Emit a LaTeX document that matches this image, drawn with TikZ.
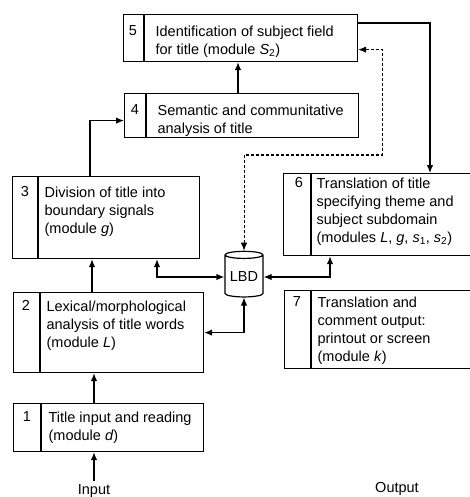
\documentclass[tikz,border=0pt]{standalone}
\usepackage{fontspec}
\setmainfont{Liberation Sans}
\usetikzlibrary{positioning,arrows.meta,shapes.geometric}

\tikzset{
  box/.style={draw, inner sep=0, anchor=north west},
  num/.style={anchor=north, inner sep=0},
  txt/.style={anchor=north west, inner sep=0, align=left},
  link/.style={->},
  dlink/.style={<->, dash pattern=on 3pt off 2pt, line width=1pt}
}

\begin{document}
\begin{tikzpicture}[x=1pt,y=-1pt,line width=1.2pt,>={Latex[length=8pt,width=6.5pt]},
  font=\fontsize{14.5}{18}\selectfont]
\useasboundingbox (0,0) rectangle (470,497);

% module boxes
\node[box, minimum width=190, minimum height=48] (b1) at (13,403) {};
\node[box, minimum width=190, minimum height=80] (b2) at (13,292) {};
\node[box, minimum width=187, minimum height=82] (b3) at (12,176) {};
\node[box, minimum width=234, minimum height=44] (b4) at (124,93) {};
\node[box, minimum width=234, minimum height=47] (b5) at (123,14) {};
\node[box, minimum width=190, minimum height=82] (b6) at (283,173) {};
\node[box, minimum width=190, minimum height=78] (b7) at (284,290) {};

% number columns
\draw ([xshift=28pt]b1.north west) -- ([xshift=28pt]b1.south west);
\draw ([xshift=27pt]b2.north west) -- ([xshift=27pt]b2.south west);
\draw ([xshift=26pt]b3.north west) -- ([xshift=26pt]b3.south west);
\draw ([xshift=22pt]b4.north west) -- ([xshift=22pt]b4.south west);
\draw ([xshift=21pt]b5.north west) -- ([xshift=21pt]b5.south west);
\draw ([xshift=28pt]b6.north west) -- ([xshift=28pt]b6.south west);
\draw ([xshift=27pt]b7.north west) -- ([xshift=27pt]b7.south west);

\node[num] (n1) at (27,411) {1};
\node[num] (n2) at (26,300) {2};
\node[num] (n3) at (25,186) {3};
\node[num] (n4) at (135,104) {4};
\node[num] (n5) at (133,25) {5};
\node[num] (n6) at (299,177) {6};
\node[num] (n7) at (297,296) {7};

\node[txt] (t1) at (48,411) {Title input and reading\\(module \textit{d})};
\node[txt] (t2) at (46,300) {Lexical/morphological\\analysis of title words\\(module \textit{L})};
\node[txt] (t3) at (44,186) {Division of title into\\boundary signals\\(module \textit{g})};
\node[txt] (t4) at (157,104) {Semantic and communitative\\analysis of title};
\node[txt] (t5) at (155,25) {Identification of subject field\\for title (module \textit{S}\textsubscript{2})};
\node[txt] (t6) at (316,177) {Translation of title\\specifying theme and\\subject subdomain\\(modules \textit{L}, \textit{g}, \textit{s}\textsubscript{1}, \textit{s}\textsubscript{2})};
\node[txt] (t7) at (317,296) {Translation and\\comment output:\\printout or screen\\(module \textit{k})};

% data base
\node[cylinder, draw, shape border rotate=90, aspect=0.22, minimum width=38, inner xsep=2, inner ysep=13] (lbd) at (244,277) {LBD};

\node (in) at (94,491) {Input};
\node (out) at (397,489) {Output};

% helper columns
\coordinate (c12) at (94,0);
\coordinate (c23) at (92,0);
\coordinate (c34) at (90,0);
\coordinate (c45) at (238,0);
\coordinate (c56) at (430,0);
\coordinate (c3l) at (157,0);
\coordinate (c6l) at (330,0);
\coordinate (cd) at (382,155);

\draw[link] (in) -- (b1.south -| in);
\draw[link] (b1.north -| c12) -- (b2.south -| c12);
\draw[link] (b2.north -| c23) -- (b3.south -| c23);
\draw[link] (b3.north -| c34) |- ([yshift=-5pt]b4.west);
\draw[link] (b4.north -| c45) -- (b5.south -| c45);
\draw[link] ([yshift=-9pt]b5.north east) -| (b6.north -| c56);

\draw[<->] (b3.south -| c3l) |- (lbd.west);
\draw[<->] (lbd.east) -| (b6.south -| c6l);
\draw[<->] (lbd.south) |- (b2.east);
\draw[dlink] (lbd.north) |- (cd) |- ([yshift=-11.5pt]b5.east);
\end{tikzpicture}
\end{document}
